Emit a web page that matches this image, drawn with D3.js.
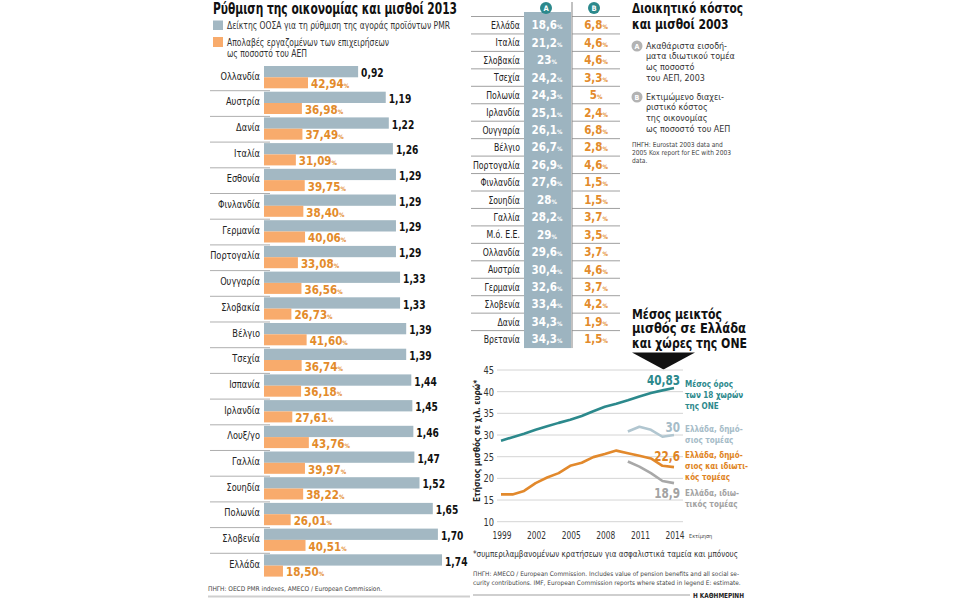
<!DOCTYPE html>
<html>
<head>
<meta charset="utf-8">
<script src="https://cdn.jsdelivr.net/npm/d3@7"></script>
<style>
  body { margin: 0; background: #fff; }
  svg { display: block; }
  text { font-family: "Liberation Sans Narrow", "DejaVu Sans Condensed", Roboto, sans-serif; }
</style>
</head>
<body>
<svg id="chart" width="958" height="598"></svg>
<script>
// ---- left: PMR index and wage share 2013 ----
const pmrCountries = ["Ολλανδία", "Αυστρία", "Δανία", "Ιταλία", "Εσθονία", "Φινλανδία", "Γερμανία",
  "Πορτογαλία", "Ουγγαρία", "Σλοβακία", "Βέλγιο", "Τσεχία", "Ισπανία", "Ιρλανδία", "Λουξ/γο",
  "Γαλλία", "Σουηδία", "Πολωνία", "Σλοβενία", "Ελλάδα"];
const pmrValues = [0.92, 1.19, 1.22, 1.26, 1.29, 1.29, 1.29, 1.29, 1.33, 1.33, 1.39, 1.39, 1.44,
  1.45, 1.46, 1.47, 1.52, 1.65, 1.70, 1.74];
const wageShare = [42.94, 36.98, 37.49, 31.09, 39.75, 38.40, 40.06, 33.08, 36.56, 26.73, 41.60,
  36.74, 36.18, 27.61, 43.76, 39.97, 38.22, 26.01, 40.51, 18.50];

// ---- middle: administrative cost 2003 ----
const costCountries = ["Ελλάδα", "Ιταλία", "Σλοβακία", "Τσεχία", "Πολωνία", "Ιρλανδία", "Ουγγαρία",
  "Βέλγιο", "Πορτογαλία", "Φινλανδία", "Σουηδία", "Γαλλία", "Μ.ό. Ε.Ε.", "Ολλανδία", "Αυστρία",
  "Γερμανία", "Σλοβενία", "Δανία", "Βρετανία"];
const grossIncome = [18.6, 21.2, 23, 24.2, 24.3, 25.1, 26.1, 26.7, 26.9, 27.6, 28, 28.2, 29, 29.6,
  30.4, 32.6, 33.4, 34.3, 34.3];
const adminCost = [6.8, 4.6, 4.6, 3.3, 5, 2.4, 6.8, 2.8, 4.6, 1.5, 1.5, 3.7, 3.5, 3.7, 4.6, 3.7,
  4.2, 1.9, 1.5];

// ---- right: average gross wage ----
const years = [1999, 2000, 2001, 2002, 2003, 2004, 2005, 2006, 2007, 2008, 2009, 2010, 2011, 2012, 2013, 2014];
const avgEmu = [28.7, 29.5, 30.3, 31.2, 32.0, 32.8, 33.5, 34.4, 35.5, 36.5, 37.2, 38.0, 38.9, 39.7, 40.3, 40.83];
const greeceAll = [16.3, 16.3, 17.1, 18.9, 20.2, 21.2, 22.9, 23.6, 24.9, 25.6, 26.4, 25.8, 25.2, 24.6, 22.9, 22.6];
const lateYears = [2010, 2011, 2012, 2013, 2014];
const greecePublic = [30.8, 31.9, 31.2, 29.6, 30.0];
const greecePrivate = [23.9, 22.7, 21.2, 19.4, 18.9];
const yTicks = [10, 15, 20, 25, 30, 35, 40, 45];
const xTicks = [1999, 2002, 2005, 2008, 2011, 2014];

const BLUE = "#a3b8c3", ORANGE = "#f8ab6c", ORANGE_TXT = "#e38b2b", TEAL = "#2c898c";
const comma = v => String(v).replace(".", ",");
const comma2 = v => v.toFixed(2).replace(".", ",");

// The original face is condensed. Narrow a group of texts by the factor that
// brings a sample string (same style as the group) to the width it has in the picture.
function squeeze(sel, k) {
  sel.each(function () {
    const w = this.getComputedTextLength();
    d3.select(this).attr("textLength", w * k).attr("lengthAdjust", "spacingAndGlyphs");
  });
}
function fitTo(sel, sample, width) {
  const node = sel.node();
  const probe = node.cloneNode(false);
  probe.textContent = sample;
  node.parentNode.appendChild(probe);
  const k = width / probe.getComputedTextLength();
  probe.remove();
  squeeze(sel, Math.min(k, 1.05));
}
const fit = (sel, width) => fitTo(sel, sel.text(), width);

const svg = d3.select("#chart");

/* ================= left panel ================= */
svg.append("text").attr("x", 213).attr("y", 13.5)
  .attr("font-size", 16).attr("font-weight", "bold").attr("fill", "#111")
  .text("Ρύθμιση της οικονομίας και μισθοί 2013").call(fit, 244);

const legendLeft = svg.append("g");
legendLeft.append("rect").attr("x", 213).attr("y", 20.5).attr("width", 10).attr("height", 9.5).attr("fill", BLUE);
legendLeft.append("rect").attr("x", 213).attr("y", 37).attr("width", 10).attr("height", 10).attr("fill", ORANGE);
legendLeft.selectAll("text")
  .data([["Δείκτης ΟΟΣΑ για τη ρύθμιση της αγοράς προϊόντων PMR", 28.8],
         ["Απολαβές εργαζομένων των επιχειρήσεων", 46.3], ["ως ποσοστό του ΑΕΠ", 56.5]])
  .join("text").attr("x", 227).attr("y", d => d[1]).attr("font-size", 10).attr("fill", "#333")
  .text(d => d[0])
  .call(fitTo, "Δείκτης ΟΟΣΑ για τη ρύθμιση της αγοράς προϊόντων PMR", 223);

const rowY = d3.scaleBand().domain(pmrCountries).range([65, 65 + 20 * 25.7]);
const xPmr = d3.scaleLinear().domain([0, 1.74]).range([264, 442]);
const xWage = d3.scaleLinear().domain([0, 42.94]).range([264, 308]);

const rows = svg.append("g").selectAll("g")
  .data(pmrCountries.map((c, i) => ({ c, pmr: pmrValues[i], wage: wageShare[i], i })))
  .join("g").attr("transform", d => `translate(0,${rowY(d.c)})`);

rows.filter(d => d.i < pmrCountries.length - 1).append("line")
  .attr("x1", 210).attr("x2", 270).attr("y1", 25.7).attr("y2", 25.7)
  .attr("stroke", "#9a9a9a").attr("stroke-width", 0.8);
rows.append("rect").attr("x", xPmr(0)).attr("y", 1)
  .attr("width", d => xPmr(d.pmr) - xPmr(0)).attr("height", 11.3).attr("fill", BLUE);
rows.append("rect").attr("x", xWage(0)).attr("y", 12.3)
  .attr("width", d => xWage(d.wage) - xWage(0)).attr("height", 11).attr("fill", ORANGE);
rows.append("text").attr("x", 260).attr("y", 14.5).attr("text-anchor", "end")
  .attr("font-size", 11).attr("fill", "#222").text(d => d.c)
  .call(fitTo, "Ολλανδία", 39.5);
rows.append("text").attr("x", d => xPmr(d.pmr) + 3).attr("y", 12.3)
  .attr("font-size", 12.5).attr("font-weight", "bold").attr("fill", "#111")
  .text(d => comma2(d.pmr)).call(fitTo, "1,74", 22.5);
const wl = rows.append("text").attr("x", d => xWage(d.wage) + 3).attr("y", 23)
  .attr("font-size", 11.5).attr("font-weight", "bold").attr("fill", ORANGE_TXT);
wl.append("tspan").text(d => comma2(d.wage));
wl.append("tspan").attr("font-size", 6).text("%");

svg.append("text").attr("x", 208).attr("y", 590.5).attr("font-size", 6.5).attr("fill", "#444")
  .text("ΠΗΓΗ: OECD PMR indexes, AMECO / European Commission.").call(fit, 174);
svg.append("line").attr("x1", 208).attr("x2", 470).attr("y1", 596.5).attr("y2", 596.5)
  .attr("stroke", "#cfcfcf").attr("stroke-width", 2);

/* ================= middle table ================= */
const tRow = d3.scaleBand().domain(costCountries).range([16.5, 16.5 + 19 * 17.45]);
const table = svg.append("g");
table.append("rect").attr("x", 524).attr("y", 12).attr("width", 47)
  .attr("height", tRow.range()[1] - 12).attr("fill", "#9db4c0");
table.append("line").attr("x1", 572).attr("x2", 572).attr("y1", 2).attr("y2", tRow.range()[1])
  .attr("stroke", "#666").attr("stroke-width", 0.8);

const heads = [{ l: "A", x: 546 }, { l: "B", x: 594 }];
table.selectAll("circle.h").data(heads).join("circle").attr("class", "h")
  .attr("cx", d => d.x).attr("cy", 8).attr("r", 6).attr("fill", TEAL);
table.selectAll("text.h").data(heads).join("text").attr("class", "h")
  .attr("x", d => d.x).attr("y", 10.6).attr("text-anchor", "middle")
  .attr("font-size", 7.5).attr("font-weight", "bold").attr("fill", "#fff").text(d => d.l);

const trows = table.selectAll("g.r")
  .data(costCountries.map((c, i) => ({ c, a: grossIncome[i], b: adminCost[i] })))
  .join("g").attr("class", "r").attr("transform", d => `translate(0,${tRow(d.c)})`);
trows.append("line").attr("x1", 471).attr("x2", 524).attr("stroke", "#888").attr("stroke-width", 0.8);
trows.append("line").attr("x1", 572).attr("x2", 620).attr("stroke", "#888").attr("stroke-width", 0.8);
trows.append("text").attr("x", 520).attr("y", 12.5).attr("text-anchor", "end")
  .attr("font-size", 11).attr("fill", "#222").text(d => d.c)
  .call(fitTo, "Πορτογαλία", 47);
const ta = trows.append("text").attr("x", 547).attr("y", 12.8).attr("text-anchor", "middle")
  .attr("font-size", 11.5).attr("font-weight", "bold").attr("fill", "#fff");
ta.append("tspan").text(d => comma(d.a));
ta.append("tspan").attr("font-size", 6).text("%");
const tb = trows.append("text").attr("x", 596).attr("y", 12.8).attr("text-anchor", "middle")
  .attr("font-size", 11.5).attr("font-weight", "bold").attr("fill", ORANGE_TXT);
tb.append("tspan").text(d => comma(d.b));
tb.append("tspan").attr("font-size", 6).text("%");

/* ================= right notes ================= */
const note = svg.append("g");
[["Διοικητικό κόστος", 12.5, 111], ["και μισθοί 2003", 28.5, 96.5]].forEach(([t, y, w]) =>
  note.append("text").attr("x", 632).attr("y", y).attr("font-size", 14.5)
    .attr("font-weight", "bold").attr("fill", "#111").text(t).call(fit, w));

const legendNotes = [
  { l: "A", cy: 46, lines: ["Ακαθάριστα εισοδή-", "ματα ιδιωτικού τομέα", "ως ποσοστό", "του ΑΕΠ, 2003"] },
  { l: "B", cy: 97, lines: ["Εκτιμώμενο διαχει-", "ριστικό κόστος", "της οικονομίας", "ως ποσοστό του ΑΕΠ"] }
];
legendNotes.forEach(n => {
  note.append("circle").attr("cx", 637).attr("cy", n.cy).attr("r", 5.5).attr("fill", "#b3b3b3");
  note.append("text").attr("x", 637).attr("y", n.cy + 2.6).attr("text-anchor", "middle")
    .attr("font-size", 7).attr("font-weight", "bold").attr("fill", "#fff").text(n.l);
  note.append("g").selectAll("text").data(n.lines).join("text")
    .attr("x", 646).attr("y", (t, i) => n.cy + 2.5 + i * 10.7)
    .attr("font-size", 9.5).attr("fill", "#333").text(t => t)
    .call(fitTo, "Ακαθάριστα εισοδή-", 81);
});
note.append("g").selectAll("text")
  .data(["ΠΗΓΗ: Eurostat 2003 data and", "2005 Kox report for EC with 2003", "data."]).join("text")
  .attr("x", 632).attr("y", (t, i) => 146.5 + i * 8).attr("font-size", 6.8)
  .attr("fill", "#444").text(t => t)
  .call(fitTo, "2005 Kox report for EC with 2003", 99);

/* ================= line chart ================= */
const lc = svg.append("g");
[["Μέσος μεικτός", 90], ["μισθός σε Ελλάδα", 114], ["και χώρες της ONE", 115]].forEach(([t, w], i) =>
  lc.append("text").attr("x", 632).attr("y", 318.5 + i * 14.8).attr("font-size", 13.5)
    .attr("font-weight", "bold").attr("fill", "#111").text(t).call(fit, w));
lc.append("path").attr("d", "M632,352.5L695,352.5L663.5,369.5Z").attr("fill", "#111");

const x = d3.scaleLinear().domain([1999, 2014]).range([501, 674]);
const y = d3.scaleLinear().domain([10, 45]).range([521.7, 370]);

lc.selectAll("line.grid").data(yTicks).join("line").attr("class", "grid")
  .attr("x1", 497).attr("x2", 683).attr("y1", d => y(d)).attr("y2", d => y(d))
  .attr("stroke", "#cfcfcf").attr("stroke-width", 0.9);
lc.selectAll("text.yt").data(yTicks).join("text").attr("class", "yt")
  .attr("x", 494).attr("y", d => y(d)).attr("dy", "0.35em").attr("text-anchor", "end")
  .attr("font-size", 11).attr("fill", "#333").text(d => d).call(fitTo, "45", 10.5);
lc.selectAll("text.xt").data(xTicks).join("text").attr("class", "xt")
  .attr("x", d => x(d) + 1).attr("y", 539).attr("text-anchor", "middle")
  .attr("font-size", 11).attr("fill", "#333").text(d => d).call(fitTo, "1999", 19);
lc.append("text").attr("x", 689).attr("y", 538).attr("font-size", 5.5).attr("fill", "#444").text("Εκτίμηση");

lc.append("text").attr("transform", "translate(479.5,441) rotate(-90)").attr("text-anchor", "middle")
  .attr("font-size", 9.5).attr("font-weight", "bold").attr("fill", "#222")
  .text("Ετήσιος μισθός σε χιλ. ευρώ*").call(fit, 122);

const line = d3.line().x(d => x(d[0])).y(d => y(d[1]));
const series = [
  { yrs: years, vals: greeceAll, color: "#e2892c", txt: "#e08424", lab: "22,6",
    lines: ["Ελλάδα, δημό-", "σιος και ιδιωτι-", "κός τομέας"], vy: 460.5, ly: 458 },
  { yrs: lateYears, vals: greecePrivate, color: "#a8a8a8", txt: "#a3a3a3", lab: "18,9",
    lines: ["Ελλάδα, ιδιω-", "τικός τομέας"], vy: 498, ly: 495.5 },
  { yrs: lateYears, vals: greecePublic, color: "#b1c6d0", txt: "#a6bcc8", lab: "30",
    lines: ["Ελλάδα, δημό-", "σιος τομέας"], vy: 431.5, ly: 431.5 },
  { yrs: years, vals: avgEmu, color: TEAL, txt: TEAL, lab: "40,83",
    lines: ["Μέσος όρος", "των 18 χωρών", "της ONE"], vy: 385, ly: 386.5 }
];
series.forEach(s => {
  lc.append("path").datum(s.yrs.map((yr, i) => [yr, s.vals[i]]))
    .attr("d", line).attr("fill", "none").attr("stroke", s.color)
    .attr("stroke-width", 2.6).attr("stroke-linejoin", "round");
  lc.append("text").attr("x", 680).attr("y", s.vy).attr("text-anchor", "end")
    .attr("font-size", 14.5).attr("font-weight", "bold").attr("fill", s.txt).text(s.lab)
    .call(fitTo, "40,83", 33);
  lc.append("g").selectAll("text").data(s.lines).join("text")
    .attr("x", 685).attr("y", (t, i) => s.ly + i * 11)
    .attr("font-size", 9).attr("font-weight", "bold").attr("fill", s.txt).text(t => t)
    .call(fitTo, "Μέσος όρος", 48);
});

lc.append("text").attr("x", 473).attr("y", 556.5).attr("font-size", 8.5).attr("fill", "#333")
  .text("*συμπεριλαμβανομένων κρατήσεων για ασφαλιστικά ταμεία και μπόνους").call(fit, 265);
lc.append("g").selectAll("text")
  .data(["ΠΗΓΗ: AMECO / European Commission. Includes value of pension benefits and all social se-",
         "curity contributions. IMF, European Commission reports where stated in legend E: estimate."])
  .join("text").attr("x", 473).attr("y", (t, i) => 575.5 + i * 9)
  .attr("font-size", 6.3).attr("fill", "#444").text(t => t)
  .call(fitTo, "ΠΗΓΗ: AMECO / European Commission. Includes value of pension benefits and all social se-", 266);
lc.append("line").attr("x1", 473).attr("x2", 690).attr("y1", 595).attr("y2", 595)
  .attr("stroke", "#cfcfcf").attr("stroke-width", 2);
lc.append("text").attr("x", 744).attr("y", 597.5).attr("text-anchor", "end")
  .attr("font-size", 7).attr("font-weight", "bold").attr("fill", "#222").text("Η ΚΑΘΗΜΕΡΙΝΗ")
  .call(fit, 51);
</script>
</body>
</html>
